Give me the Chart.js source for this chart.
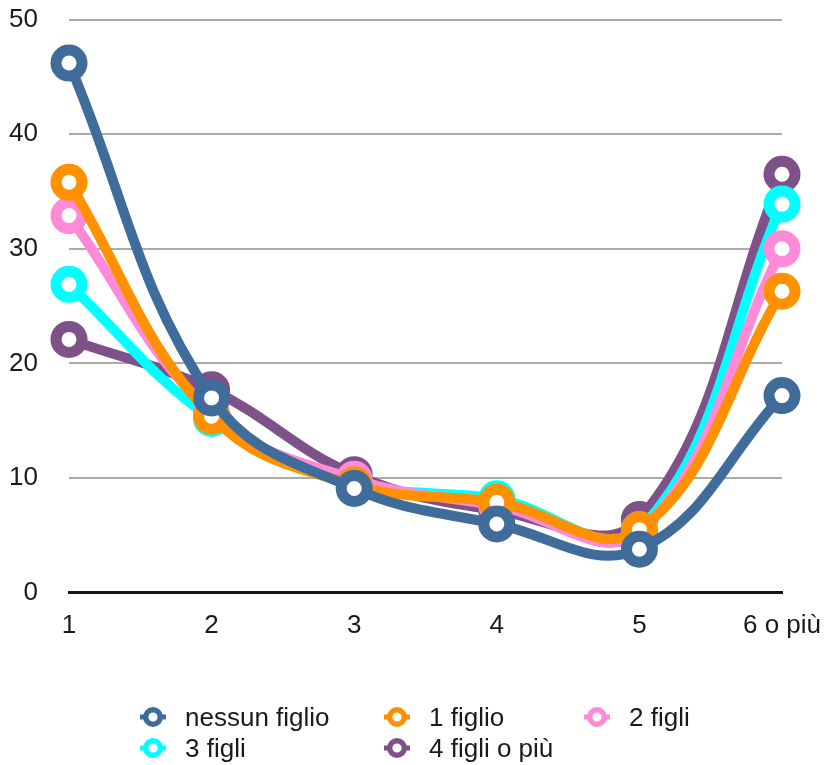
<!DOCTYPE html>
<html lang="it">
<head>
<meta charset="utf-8">
<script src="https://cdn.jsdelivr.net/npm/chart.js@4"></script>
<style>
  html, body { margin: 0; padding: 0; background: #fff; }
  #wrap { position: relative; width: 824px; height: 765px; }
  #chart { position: absolute; left: 0; top: 0; }
  #legend { position: absolute; left: 0; top: 0; width: 824px; height: 765px; pointer-events: none;
            font-family: "Liberation Sans", Arial, sans-serif; font-size: 26px; color: #1a1a1a; }
  .item { position: absolute; display: flex; align-items: center; white-space: nowrap; }
  .item svg { margin-right: 19px; }
</style>
</head>
<body>
<div id="wrap">
  <canvas id="chart" width="824" height="765"></canvas>
  <div id="legend"></div>
</div>
<script>
// Numero di figli (categorie) e serie percentuali
const categories = ['1', '2', '3', '4', '5', '6 o più'];
const seriesNames = ['nessun figlio', '1 figlio', '2 figli', '3 figli', '4 figli o più'];
const nessunFiglio = [46.2, 17.0, 9.1, 6.0, 3.8, 17.2];
const unFiglio     = [35.8, 15.4, 9.4, 7.9, 5.5, 26.3];
const dueFigli     = [32.9, 15.7, 9.9, 7.6, 5.3, 30.0];
const treFigli     = [26.9, 15.2, 9.6, 8.2, 5.5, 33.9];
const quattroFigli = [22.1, 17.7, 10.3, 7.2, 6.4, 36.5];
const yTicks = [0, 10, 20, 30, 40, 50];

const colors = ['#3f6c9b', '#ff9000', '#ff8ad8', '#00ffff', '#7f5189'];
const values = [nessunFiglio, unFiglio, dueFigli, treFigli, quattroFigli];

const FONT = '"Liberation Sans", Arial, sans-serif';

const datasets = seriesNames.map((name, i) => ({
  label: name,
  data: values[i],
  borderColor: colors[i],
  backgroundColor: '#ffffff',
  borderWidth: 10,
  tension: 0.4,
  pointRadius: 13,
  pointHoverRadius: 13,
  pointBorderWidth: 11,
  pointBackgroundColor: '#ffffff',
  pointBorderColor: colors[i],
  fill: false
}));

new Chart(document.getElementById('chart'), {
  type: 'line',
  data: { labels: categories, datasets },
  options: {
    responsive: false,
    animation: false,
    layout: { autoPadding: false, padding: { top: 19.5, right: 0, bottom: 107, left: 0 } },
    plugins: { legend: { display: false }, tooltip: { enabled: false } },
    scales: {
      x: {
        offset: false,
        grid: { display: false, drawTicks: false },
        border: { display: true, color: '#151515', width: 3 },
        ticks: { color: '#1a1a1a', font: { family: FONT, size: 26 }, padding: 17, maxRotation: 0 },
        afterFit: s => { s.paddingRight = 42; s.paddingLeft = 0; }
      },
      y: {
        min: 0, max: 50,
        afterBuildTicks: s => { s.ticks = yTicks.map(v => ({ value: v })); },
        grid: {
          drawTicks: false,
          lineWidth: 2,
          color: c => (c.tick && c.tick.value === 0) ? '#151515' : '#ababab'
        },
        border: { display: false },
        ticks: { color: '#1a1a1a', font: { family: FONT, size: 26 }, padding: 31 },
        afterFit: s => { s.width = 69; s.paddingTop = 0; s.paddingBottom = 0; }
      }
    }
  }
});

// Legenda disposta su tre colonne
const legend = document.getElementById('legend');
const slots = [[140, 717], [384, 717], [584, 717], [140, 748], [384, 748]];
seriesNames.forEach((name, i) => {
  const el = document.createElement('div');
  el.className = 'item';
  el.style.left = slots[i][0] + 'px';
  el.style.top = (slots[i][1] - 15) + 'px';
  el.style.height = '30px';
  const c = colors[i];
  el.innerHTML =
    '<svg width="26" height="22" viewBox="0 0 26 22">' +
    '<line x1="0" y1="11" x2="26" y2="11" stroke="' + c + '" stroke-width="5"/>' +
    '<circle cx="13" cy="11" r="7.3" fill="#fff" stroke="' + c + '" stroke-width="5.4"/>' +
    '</svg><span>' + name + '</span>';
  legend.appendChild(el);
});
</script>
</body>
</html>
